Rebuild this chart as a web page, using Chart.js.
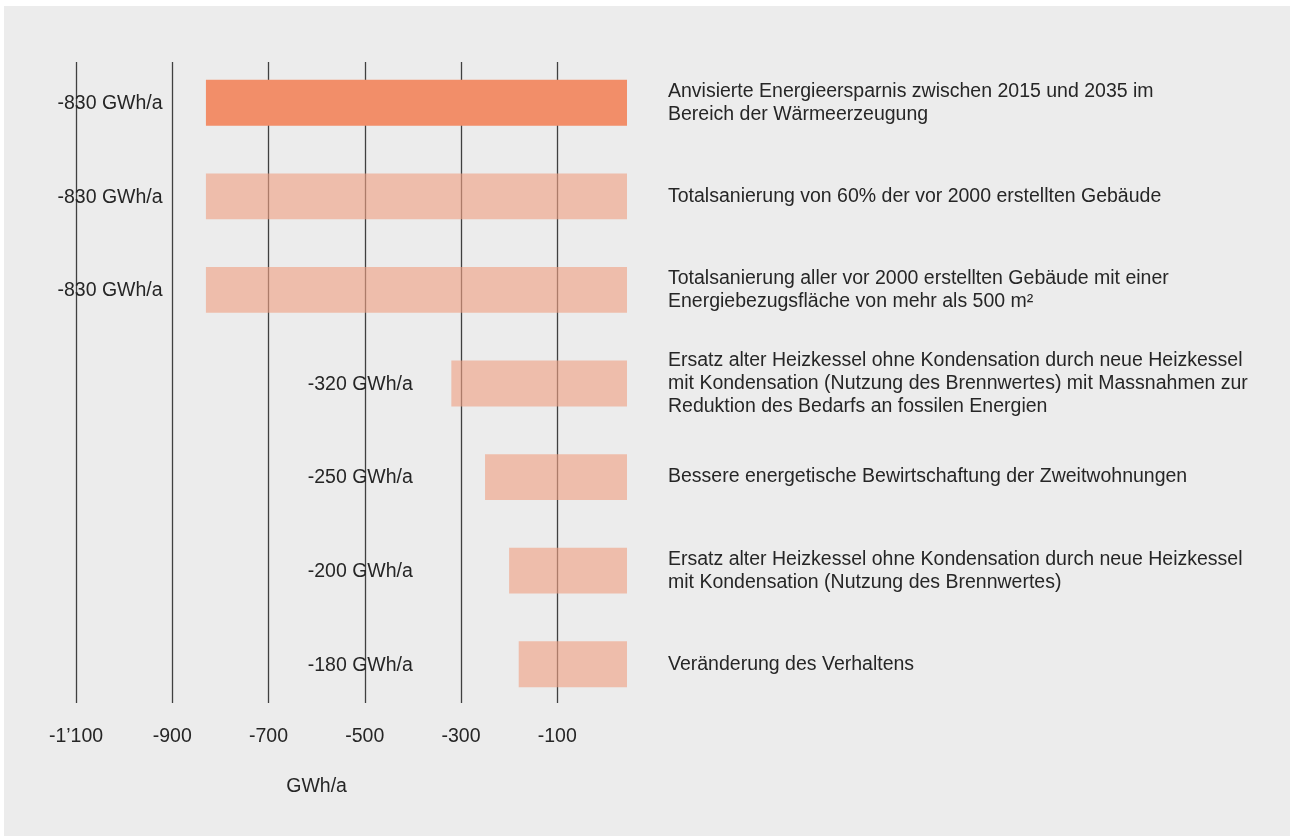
<!DOCTYPE html>
<html><head><meta charset="utf-8">
<script src="https://cdn.jsdelivr.net/npm/chart.js@4"></script>
<style>html,body{margin:0;padding:0;background:#fff;}#wrap{width:1290px;height:836px;position:relative}</style>
</head><body><div id="wrap"><canvas id="c" width="1290" height="836"></canvas></div>
<script>
const categories = [
  ["Anvisierte Energieersparnis zwischen 2015 und 2035 im", "Bereich der Wärmeerzeugung"],
  ["Totalsanierung von 60% der vor 2000 erstellten Gebäude"],
  ["Totalsanierung aller vor 2000 erstellten Gebäude mit einer", "Energiebezugsfläche von mehr als 500 m²"],
  ["Ersatz alter Heizkessel ohne Kondensation durch neue Heizkessel", "mit Kondensation (Nutzung des Brennwertes) mit Massnahmen zur", "Reduktion des Bedarfs an fossilen Energien"],
  ["Bessere energetische Bewirtschaftung der Zweitwohnungen"],
  ["Ersatz alter Heizkessel ohne Kondensation durch neue Heizkessel", "mit Kondensation (Nutzung des Brennwertes)"],
  ["Veränderung des Verhaltens"]
];
const values = [-830, -830, -830, -320, -250, -200, -180];
const valueLabels = ["-830 GWh/a", "-830 GWh/a", "-830 GWh/a", "-320 GWh/a", "-250 GWh/a", "-200 GWh/a", "-180 GWh/a"];
const tickValues = [-1100, -900, -700, -500, -300, -100];
const tickLabels = ["-1’100", "-900", "-700", "-500", "-300", "-100"];
const axisTitle = "GWh/a";

const FONT = "'Liberation Sans', Arial, sans-serif";
const FS = 19.5;
const TEXT = '#262626';
const STRONG = '#f28e69';
const LIGHT = 'rgba(239,159,131,0.62)';

const decor = {
  id: 'decor',
  beforeDraw(chart) {
    const ctx = chart.ctx;
    ctx.save();
    ctx.fillStyle = '#ececec';
    ctx.fillRect(4, 6, chart.width - 4, chart.height - 6);
    ctx.restore();
  },
  beforeDatasetsDraw(chart) {
    const ctx = chart.ctx, xs = chart.scales.x, ca = chart.chartArea;
    ctx.save();
    ctx.strokeStyle = '#404040';
    ctx.lineWidth = 1.3;
    tickValues.forEach(v => {
      const px = Math.round(xs.getPixelForValue(v)) + 0.5;
      ctx.beginPath();
      ctx.moveTo(px, ca.top + 6);
      ctx.lineTo(px, ca.bottom - 8);
      ctx.stroke();
    });
    ctx.restore();
  },
  afterDatasetsDraw(chart) {
    const ctx = chart.ctx, xs = chart.scales.x;
    ctx.save();
    ctx.font = FS + 'px ' + FONT;
    ctx.fillStyle = TEXT;
    ctx.textAlign = 'right';
    ctx.textBaseline = 'middle';
    chart.getDatasetMeta(0).data.forEach((bar, i) => {
      const v = values[i];
      const anchor = v < -400 ? v - 90 : -400;
      ctx.fillText(valueLabels[i], xs.getPixelForValue(anchor), bar.y + 1);
    });
    ctx.textAlign = 'center';
    ctx.fillText(axisTitle, xs.getPixelForValue(-600), 787);
    ctx.restore();
  }
};

new Chart(document.getElementById('c'), {
  type: 'bar',
  data: {
    labels: categories,
    datasets: [{
      data: values,
      base: 45,
      backgroundColor: values.map((v, i) => i === 0 ? STRONG : LIGHT),
      borderWidth: 0,
      categoryPercentage: 1,
      barPercentage: 0.49
    }]
  },
  options: {
    indexAxis: 'y',
    responsive: false,
    animation: false,
    devicePixelRatio: 1,
    layout: { padding: { left: 76, top: 56, right: 0, bottom: 65 } },
    plugins: { legend: { display: false }, tooltip: { enabled: false } },
    scales: {
      x: {
        type: 'linear',
        position: 'bottom',
        min: -1100,
        max: 45,
        grid: { display: false, drawTicks: false },
        border: { display: false },
        afterBuildTicks: s => { s.ticks = tickValues.map(v => ({ value: v })); },
        afterFit: s => { s.height = 60; },
        ticks: {
          autoSkip: false,
          maxRotation: 0,
          padding: 14,
          color: TEXT,
          font: { family: FONT, size: FS },
          callback: v => tickLabels[tickValues.indexOf(v)]
        }
      },
      y: {
        type: 'category',
        position: 'right',
        grid: { display: false, drawTicks: false },
        border: { display: false },
        afterFit: s => { s.width = 663; },
        ticks: {
          autoSkip: false,
          padding: 41,
          color: TEXT,
          font: { family: FONT, size: FS, lineHeight: 23 / FS }
        }
      }
    }
  },
  plugins: [decor]
});
</script>
</body></html>
